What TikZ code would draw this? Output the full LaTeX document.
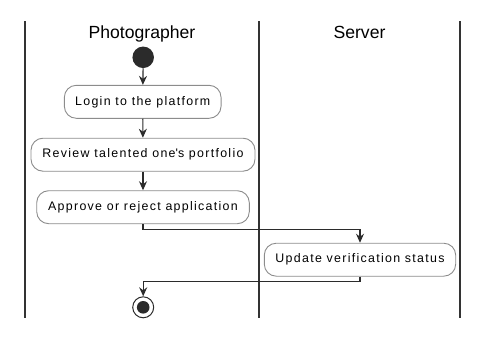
\documentclass[tikz,border=0pt]{standalone}
\usepackage{fontspec}
\setmainfont{Liberation Sans}
\newfontfamily\actfont[LetterSpace=10.5]{Liberation Sans}
\usetikzlibrary{arrows.meta}
\definecolor{lanecol}{HTML}{333333}
\definecolor{boxcol}{HTML}{8C8C8C}
\definecolor{flowcol}{HTML}{2B2B2B}
\tikzset{
  lane/.style={draw=lanecol, line width=2pt},
  lanetitle/.style={anchor=base, font=\fontsize{17.6}{20}\selectfont, text=black, inner sep=0pt},
  activity/.style={draw=boxcol, line width=0.9pt, fill=white, rounded corners=12pt,
    minimum height=33pt, inner sep=0pt, font=\actfont\fontsize{12.4}{14}\selectfont},
  flow/.style={draw=flowcol, line width=1.1pt, -{Stealth[length=9pt, width=8pt, inset=3pt]}},
  startdot/.style={circle, fill=flowcol, minimum size=21.5pt, inner sep=0pt},
  endring/.style={circle, draw=flowcol, line width=1pt, fill=white, minimum size=21pt, inner sep=0pt},
}
\begin{document}
\begin{tikzpicture}[x=1pt, y=-1pt]
  \useasboundingbox (0,0) rectangle (491,340);
  % swimlane borders
  \coordinate (l0t) at (25,21);  \coordinate (l0b) at (25,318);
  \coordinate (l1t) at (259,21); \coordinate (l1b) at (259,318);
  \coordinate (l2t) at (460,21); \coordinate (l2b) at (460,318);
  \draw[lane] (l0t) -- (l0b);
  \draw[lane] (l1t) -- (l1b);
  \draw[lane] (l2t) -- (l2b);
  % lane titles
  \node[lanetitle] (t1) at (142,38.3) {Photographer};
  \node[lanetitle] (t2) at (359.5,38.3) {Server};
  % activities
  \node[startdot] (start) at (143.2,57.3) {};
  \node[activity, minimum width=156.7pt] (login) at (142.7,101.8) {Login to the platform};
  \node[activity, minimum width=224pt] (review) at (143,154.7) {Review talented one\textquotesingle s portfolio};
  \node[activity, minimum width=212.6pt] (approve) at (143,207.2) {Approve or reject application};
  \node[activity, minimum width=191.4pt] (update) at (360,259.7) {Update verification status};
  \node[endring] (stop) at (143.2,307.3) {};
  \node[circle, fill=flowcol, minimum size=12.6pt, inner sep=0pt] (stopdot) at (stop) {};
  % control flow
  \draw[flow] (start) -- (login);
  \draw[flow] (login) -- (review);
  \draw[flow] (review) -- (approve);
  \draw[flow] (approve.south) -- ++(0,5) -| (update.north);
  \draw[flow] (update.south) -- ++(0,5) -| (stop.north);
\end{tikzpicture}
\end{document}
